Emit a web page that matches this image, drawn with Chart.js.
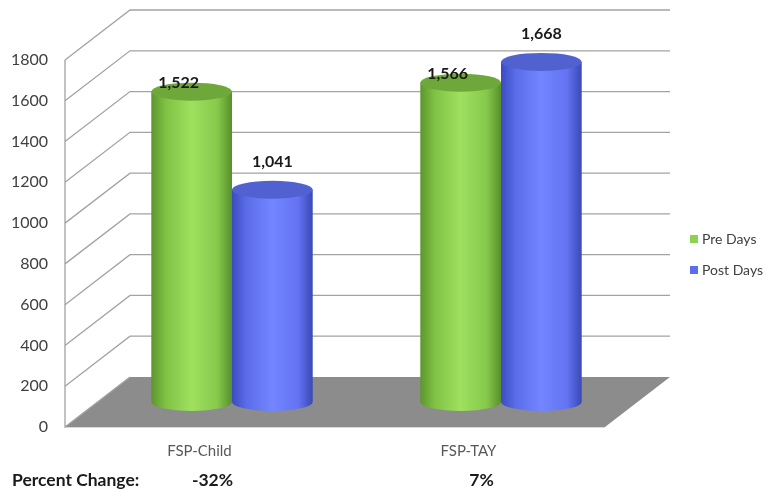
<!DOCTYPE html>
<html>
<head>
<meta charset="utf-8">
<script src="https://cdn.jsdelivr.net/npm/chart.js@4/dist/chart.umd.min.js"></script>
<style>
  html, body { margin: 0; padding: 0; background: #fff; }
  #wrap { width: 772px; height: 492px; position: relative; }
</style>
</head>
<body>
<div id="wrap"><canvas id="chart"></canvas></div>
<script>
// --- DATA ---
const categories = ['FSP-Child', 'FSP-TAY'];
const preDays = [1522, 1566];
const postDays = [1041, 1668];
const percentChange = ['-32%', '7%'];
const yTicks = [0, 200, 400, 600, 800, 1000, 1200, 1400, 1600, 1800];

// 3D look
const DEPTH_X = 65;
const DEPTH_Y = -50;
const RY = 9;
const FONT = 'Lato, "Open Sans", sans-serif';

const seriesStyle = [
    { name: 'Pre Days', legend: '#8fd24f', top: '#6ea83a',
      stops: ['#5c962d', '#80c244', '#9fe05f', '#86c94b', '#578f2c'], labelDx: -13, labelDy: -9 },
    { name: 'Post Days', legend: '#5a6cf0', top: '#5162d0',
      stops: ['#3c4cc0', '#5a6ce8', '#7385ff', '#6373f2', '#3949b5'], labelDx: 0, labelDy: -28 }
];

const scene3d = {
    id: 'scene3d',
    beforeDatasetsDraw(chart) {
        const ctx = chart.ctx;
        const area = chart.chartArea;
        const y = chart.scales.y;
        const left = area.left, right = area.right;
        const bottom = y.getPixelForValue(0);

        ctx.save();
        // floor
        ctx.fillStyle = '#8c8c8c';
        ctx.beginPath();
        ctx.moveTo(left, bottom);
        ctx.lineTo(right + 2, bottom);
        ctx.lineTo(right + 2 + DEPTH_X, bottom + DEPTH_Y);
        ctx.lineTo(left + DEPTH_X, bottom + DEPTH_Y);
        ctx.closePath();
        ctx.fill();
        ctx.strokeStyle = '#d9d9d9';
        ctx.lineWidth = 1;
        ctx.beginPath();
        ctx.moveTo(left, bottom + 0.5);
        ctx.lineTo(right + 2, bottom + 0.5);
        ctx.stroke();

        // walls grid
        ctx.strokeStyle = '#a3a3a3';
        ctx.lineWidth = 1.3;
        yTicks.forEach(v => {
            if (v === 0) return;
            const py = y.getPixelForValue(v);
            ctx.beginPath();
            ctx.moveTo(left, py);
            ctx.lineTo(left + DEPTH_X, py + DEPTH_Y);
            ctx.lineTo(right + 2 + DEPTH_X, py + DEPTH_Y);
            ctx.stroke();
        });
        ctx.beginPath();
        ctx.moveTo(left, y.getPixelForValue(yTicks[yTicks.length - 1]));
        ctx.lineTo(left, bottom);
        ctx.lineTo(left + DEPTH_X, bottom + DEPTH_Y);
        ctx.stroke();

        // cylinders
        const labels = [];
        chart.data.datasets.forEach((ds, di) => {
            const meta = chart.getDatasetMeta(di);
            const st = seriesStyle[di];
            meta.data.forEach((bar, i) => {
                const p = bar.getProps(['x', 'y', 'base', 'width'], true);
                const cx = p.x + DEPTH_X / 2;
                const topY = p.y + DEPTH_Y / 2;
                const baseY = p.base + DEPTH_Y / 2;
                const rx = p.width / 2;

                const g = ctx.createLinearGradient(cx - rx, 0, cx + rx, 0);
                [0, 0.18, 0.5, 0.82, 1].forEach((s, k) => g.addColorStop(s, st.stops[k]));
                ctx.fillStyle = g;
                ctx.beginPath();
                ctx.moveTo(cx - rx, topY);
                ctx.lineTo(cx - rx, baseY);
                ctx.ellipse(cx, baseY, rx, RY, 0, Math.PI, 0, true);
                ctx.lineTo(cx + rx, topY);
                ctx.closePath();
                ctx.fill();

                ctx.fillStyle = st.top;
                ctx.beginPath();
                ctx.ellipse(cx, topY, rx, RY, 0, 0, Math.PI * 2);
                ctx.fill();

                labels.push({ x: cx + st.labelDx, y: topY + st.labelDy, v: ds.data[i] });
            });
        });

        // data labels
        ctx.fillStyle = '#1a1a1a';
        ctx.font = 'bold 16px ' + FONT;
        ctx.textAlign = 'center';
        ctx.textBaseline = 'middle';
        labels.forEach(l => ctx.fillText(l.v.toLocaleString('en-US'), l.x, l.y));
        ctx.restore();
        return false;
    },
    afterDraw(chart) {
        const ctx = chart.ctx;
        const x = chart.scales.x;
        ctx.save();
        // percent change row
        ctx.fillStyle = '#1a1a1a';
        ctx.font = 'bold 17.5px ' + FONT;
        ctx.textBaseline = 'middle';
        ctx.textAlign = 'left';
        ctx.fillText('Percent Change:', 12, 480);
        ctx.textAlign = 'center';
        percentChange.forEach((t, i) => ctx.fillText(t, x.getPixelForValue(i) + 13, 480));

        // legend
        ctx.font = '14px ' + FONT;
        ctx.textAlign = 'left';
        seriesStyle.forEach((st, i) => {
            const ly = 239 + i * 31;
            ctx.fillStyle = st.legend;
            ctx.fillRect(690, ly - 4, 8, 8);
            ctx.fillStyle = '#404040';
            ctx.fillText(st.name, 702, ly);
        });
        ctx.restore();
    }
};

new Chart(document.getElementById('chart'), {
    type: 'bar',
    data: {
        labels: categories,
        datasets: [
            { label: seriesStyle[0].name, data: preDays, backgroundColor: seriesStyle[0].legend },
            { label: seriesStyle[1].name, data: postDays, backgroundColor: seriesStyle[1].legend }
        ]
    },
    options: {
        responsive: true,
        maintainAspectRatio: false,
        animation: false,
        layout: { padding: { left: 0, right: 169, top: 60, bottom: 0 } },
        datasets: { bar: { barPercentage: 1, categoryPercentage: 0.6 } },
        scales: {
            x: {
                grid: { display: false, drawTicks: false },
                border: { display: false },
                ticks: { color: '#595959', font: { family: FONT, size: 15 }, padding: 15 },
                afterFit(scale) { scale.height = 65; }
            },
            y: {
                min: 0,
                max: 1800,
                afterBuildTicks(scale) { scale.ticks = yTicks.map(v => ({ value: v })); },
                grid: { display: false, drawTicks: false },
                border: { display: false },
                ticks: {
                    color: '#404040',
                    font: { family: FONT, size: 16 },
                    padding: 17,
                    callback: v => String(v)
                },
                afterFit(scale) { scale.width = 65; }
            }
        },
        plugins: {
            legend: { display: false },
            tooltip: { enabled: false }
        }
    },
    plugins: [scene3d]
});
</script>
</body>
</html>
